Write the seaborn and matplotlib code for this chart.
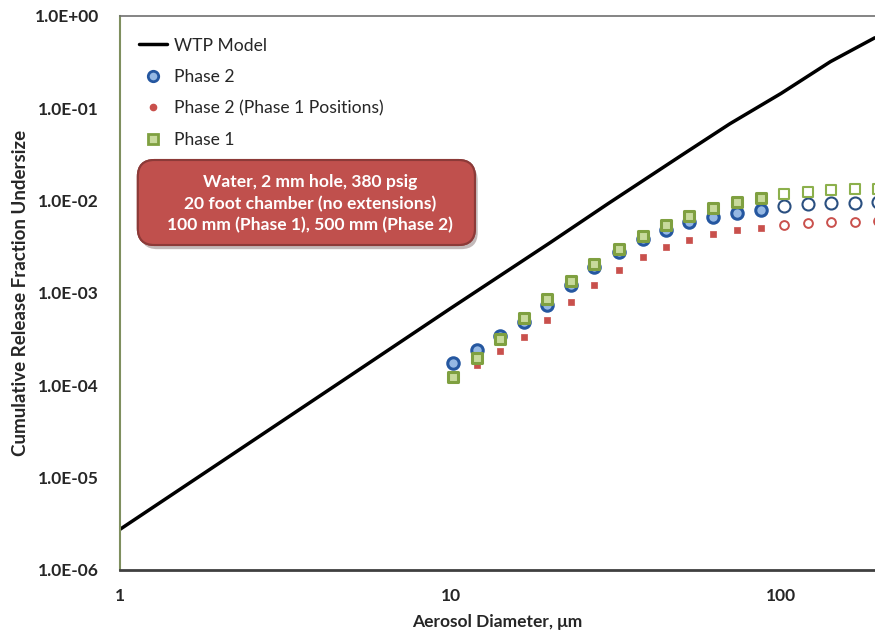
import numpy as np
import pandas as pd
import matplotlib
matplotlib.use("Agg")
import matplotlib.pyplot as plt
import matplotlib.ticker as mticker
import matplotlib.patheffects as pe
from matplotlib.lines import Line2D
from matplotlib.patches import FancyBboxPatch
import seaborn as sns

# WTP model curve
model_d = [1, 2, 5, 10, 20, 30, 50, 70, 100, 141, 192]
model_frac = [2.75e-6, 1.44e-5, 1.29e-4, 6.8e-4, 3.5e-3, 9.3e-3, 3.1e-2, 6.8e-2, 0.145, 0.32, 0.58]

# measured data
diam = [10.2, 12.0, 14.1, 16.7, 19.6, 23.2, 27.2, 32.3, 38.1, 44.9,
        52.8, 62.4, 73.4, 86.7, 102, 121, 142, 167, 196]
phase2 = [1.73e-4, 2.4e-4, 3.41e-4, 4.9e-4, 7.5e-4, 1.21e-3, 1.92e-3, 2.8e-3, 3.8e-3, 4.76e-3,
          5.86e-3, 6.6e-3, 7.4e-3, 7.97e-3, 8.8e-3, 9.1e-3, 9.35e-3, 9.5e-3, 9.6e-3]
phase2_p1pos = [np.nan, 1.68e-4, 2.35e-4, 3.36e-4, 5.1e-4, 7.97e-4, 1.23e-3, 1.79e-3, 2.45e-3, 3.12e-3,
                3.74e-3, 4.3e-3, 4.77e-3, 5.09e-3, 5.48e-3, 5.68e-3, 5.86e-3, 5.9e-3, 6.0e-3]
phase1 = [1.24e-4, 1.99e-4, 3.2e-4, 5.3e-4, 8.6e-4, 1.35e-3, 2.04e-3, 2.97e-3, 4.13e-3, 5.5e-3,
          6.9e-3, 8.26e-3, 9.6e-3, 1.08e-2, 1.19e-2, 1.24e-2, 1.29e-2, 1.33e-2, 1.35e-2]
n_filled = 14  # points past ~87 um are drawn hollow

ytick_vals = [1e-6, 1e-5, 1e-4, 1e-3, 1e-2, 1e-1, 1e0]
ytick_labels = ["1.0E-06", "1.0E-05", "1.0E-04", "1.0E-03", "1.0E-02", "1.0E-01", "1.0E+00"]

sns.set_theme(style="white")
plt.rcParams["font.family"] = ["Lato", "DejaVu Sans"]

df = pd.DataFrame({"d": diam, "p2": phase2, "p2p1": phase2_p1pos, "p1": phase1})
full = df.iloc[:n_filled]
hollow = df.iloc[n_filled:]
model = pd.DataFrame({"d": model_d, "f": model_frac})

fig = plt.figure(figsize=(8.75, 6.31), dpi=100)
ax = fig.add_axes([0.137, 0.0967, 0.863, 0.878])

sns.lineplot(data=model, x="d", y="f", ax=ax, color="black", lw=2.5, legend=False)

blue_e, blue_f = "#2557A0", "#95B8E3"
red = "#C9504C"
green_e, green_f = "#7FA040", "#C8DA9C"

sns.scatterplot(data=full, x="d", y="p2", ax=ax, marker="o", s=68, color=blue_f,
                edgecolor=blue_e, linewidth=2.2, zorder=3)
sns.scatterplot(data=hollow, x="d", y="p2", ax=ax, marker="o", s=75, color="white",
                edgecolor="#2A4F80", linewidth=1.5, zorder=3)
sns.scatterplot(data=full, x="d", y="p2p1", ax=ax, marker="s", s=24, color=red,
                edgecolor=red, linewidth=0.5, zorder=4)
sns.scatterplot(data=hollow, x="d", y="p2p1", ax=ax, marker="o", s=40, color="white",
                edgecolor=red, linewidth=1.4, zorder=4)
sns.scatterplot(data=full, x="d", y="p1", ax=ax, marker="s", s=42, color=green_f,
                edgecolor=green_e, linewidth=2.2, zorder=5)
sns.scatterplot(data=hollow, x="d", y="p1", ax=ax, marker="s", s=60, color="white",
                edgecolor="#8CB04C", linewidth=1.5, zorder=5)

ax.set_xscale("log")
ax.set_yscale("log")
ax.set_xlim(1, 10 ** 2.284)
ax.set_ylim(1e-6, 1)

ax.set_yticks(ytick_vals)
ax.set_yticklabels(ytick_labels)
ax.yaxis.set_minor_locator(mticker.LogLocator(base=10, subs=np.arange(2, 10)))
ax.yaxis.set_minor_formatter(mticker.NullFormatter())
ax.set_xticks([1, 10, 100])
ax.set_xticklabels(["1", "10", "100"])
ax.xaxis.set_minor_locator(mticker.LogLocator(base=10, subs=np.arange(2, 10)))
ax.xaxis.set_minor_formatter(mticker.NullFormatter())

ax.tick_params(axis="both", which="both", direction="in", labelsize=12.5)
ax.tick_params(axis="y", which="major", length=6, width=1, color="#7F8F5F", pad=15)
ax.tick_params(axis="y", which="minor", length=4, width=1, color="#7F8F5F")
ax.tick_params(axis="x", which="major", length=6, width=1, color="#404040", pad=13)
ax.tick_params(axis="x", which="minor", length=5, width=1, color="#404040")
for lab in ax.get_xticklabels() + ax.get_yticklabels():
    lab.set_fontweight("bold")

ax.spines["right"].set_visible(False)
ax.spines["top"].set_color("#707070")
ax.spines["top"].set_linewidth(1.2)
ax.spines["left"].set_color("#7F8F5F")
ax.spines["left"].set_linewidth(1.5)
ax.spines["bottom"].set_color("#404040")
ax.spines["bottom"].set_linewidth(2)

ax.set_xlabel("Aerosol Diameter, μm", fontsize=12.5, fontweight="bold", labelpad=7)
ax.set_ylabel("Cumulative Release Fraction Undersize", fontsize=13.5, fontweight="bold", labelpad=4)

handles = [
    Line2D([], [], color="black", lw=2.5),
    Line2D([], [], ls="none", marker="o", ms=7.5, mfc=blue_f, mec=blue_e, mew=2),
    Line2D([], [], ls="none", marker="o", ms=4.5, mfc=red, mec=red),
    Line2D([], [], ls="none", marker="s", ms=6.5, mfc=green_f, mec=green_e, mew=2),
]
labels = ["WTP Model", "Phase 2", "Phase 2 (Phase 1 Positions)", "Phase 1"]
ax.legend(handles, labels, loc="upper left", bbox_to_anchor=(0.012, 0.98), frameon=False,
          fontsize=12.6, labelspacing=0.88, handlelength=1.6, handletextpad=0.35,
          borderaxespad=0.2)

# annotation box
patch = FancyBboxPatch((0.0238, 0.5866), 0.4464, 0.1534, transform=ax.transAxes,
                       boxstyle="round,pad=0,rounding_size=0.022", mutation_aspect=1.36,
                       fc="#C0504D", ec="#8C3A38", lw=1.5, zorder=6)
patch.set_path_effects([pe.withSimplePatchShadow(offset=(2, -3), alpha=0.3), pe.Normal()])
ax.add_patch(patch)
ax.text(0.2517, 0.661, "Water, 2 mm hole, 380 psig\n20 foot chamber (no extensions)\n"
        "100 mm (Phase 1), 500 mm (Phase 2)",
        transform=ax.transAxes, ha="center", va="center", color="white",
        fontsize=12.6, fontweight="bold", linespacing=1.4, zorder=7)

fig.savefig("out.png", dpi=100)
